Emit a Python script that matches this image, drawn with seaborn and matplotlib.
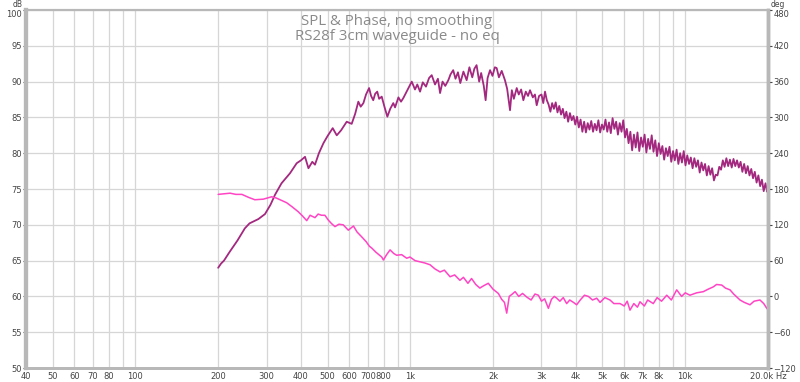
import numpy as np
import pandas as pd
import matplotlib
matplotlib.use("Agg")
import matplotlib.pyplot as plt
import matplotlib.transforms as mtrans
import seaborn as sns

# SPL trace (Hz, dB)
spl_freq = [200, 205, 210, 220, 235, 250, 260, 280, 296, 310, 322, 340, 365, 386, 400, 414, 426, 440, 450, 465,
            483, 500, 522, 540, 560, 587, 612, 630, 647, 660, 675, 690, 708, 720, 733, 745, 758, 770, 787, 805,
            825, 845, 867, 880, 905, 925, 943, 975, 1012, 1040, 1060, 1085, 1110, 1140, 1170, 1196, 1230, 1260,
            1283, 1310, 1340, 1375, 1400, 1432, 1460, 1490, 1520, 1560, 1603, 1640, 1680, 1710, 1742, 1780, 1810,
            1850, 1879, 1910, 1950, 1990, 2030, 2061, 2100, 2150, 2209, 2250, 2305, 2340, 2380, 2438, 2480, 2530,
            2577, 2630, 2680, 2725, 2790, 2840, 2882, 2940,
            3000, 3045, 3090, 3137, 3184, 3232, 3280, 3329, 3379, 3430, 3481, 3534, 3587, 3640, 3695, 3750,
            3807, 3864, 3922, 3981, 4040, 4101, 4162, 4225, 4288, 4352, 4418, 4484, 4551, 4620, 4689, 4759,
            4831, 4903, 4977, 5052, 5127, 5204, 5282, 5361, 5442, 5524, 5606, 5690, 5776, 5863, 5950, 6040,
            6130, 6222, 6316, 6410, 6507, 6604, 6703, 6804, 6906, 7010, 7115, 7221, 7330, 7440, 7551, 7665,
            7780, 7896, 8015, 8135, 8257, 8381, 8507, 8634, 8764, 8895, 9029, 9164, 9302, 9441, 9583, 9727,
            9873, 10021, 10171, 10324, 10479, 10636, 10795, 10957, 11121, 11288, 11458, 11630, 11804, 11981,
            12161, 12343, 12528, 12716, 12907, 13101, 13297, 13497, 13699, 13905, 14113, 14325, 14540, 14758,
            14979, 15204, 15432, 15663, 15898, 16137, 16379, 16625, 16874, 17127, 17384, 17645, 17909, 18178,
            18451, 18727, 19008, 19293, 19583, 19877, 20000]
spl_db = [64.0, 64.6, 65.0, 66.2, 67.8, 69.5, 70.2, 70.8, 71.5, 72.8, 74.2, 75.8, 77.2, 78.6, 79.0, 79.5, 77.9, 78.8,
          78.4, 80.0, 81.4, 82.4, 83.5, 82.5, 83.2, 84.4, 84.1, 85.5, 87.2, 86.5, 87.0, 88.2, 89.1, 88.0, 87.4, 88.3,
          88.6, 87.6, 87.9, 86.5, 85.1, 86.2, 87.0, 86.4, 87.8, 87.2, 87.7, 88.8, 90.0, 88.9, 89.6, 88.6, 89.9, 89.3,
          90.5, 90.9, 89.6, 90.4, 88.4, 90.0, 89.4, 90.2, 91.0, 91.6, 90.4, 91.3, 89.8, 91.4, 90.2, 92.0, 90.6, 91.8,
          92.3, 90.0, 91.2, 89.4, 87.4, 90.5, 91.6, 90.8, 92.0, 91.9, 90.6, 91.5, 90.2, 89.0, 86.0, 88.8, 87.6, 89.1,
          88.2, 88.9, 87.4, 88.6, 88.0, 88.8, 87.8, 88.2, 86.7, 88.0,
          88.2, 87.0, 88.6, 87.4, 86.8, 85.8, 87.0, 86.2, 87.1, 85.7, 86.6, 85.4, 86.2, 84.9, 85.8, 84.4,
          85.6, 84.6, 85.2, 84.0, 85.1, 83.6, 84.7, 83.0, 84.4, 82.9, 84.2, 83.3, 84.5, 83.0, 84.1, 83.2,
          84.6, 82.9, 84.0, 83.3, 84.7, 83.0, 84.3, 82.8, 84.9, 83.4, 84.4, 82.6, 84.2, 83.0, 84.6, 82.2,
          83.4, 81.4, 83.0, 80.4, 82.6, 80.8, 82.9, 80.3, 82.2, 80.9, 82.6, 80.1, 82.0, 80.6, 82.5, 80.2,
          81.8, 79.6, 81.4, 79.9, 81.0, 79.1, 80.7, 79.6, 80.9, 78.8, 80.3, 79.0, 80.5, 78.5, 80.0, 78.7,
          80.3, 78.3, 79.7, 78.5, 79.4, 77.9, 79.3, 78.1, 79.0, 77.3, 78.7, 77.6, 78.5, 76.9,
          78.2, 77.0, 77.9, 76.2, 77.0, 76.9, 78.1, 77.7, 79.0, 78.1, 79.3, 78.2, 79.1, 78.0,
          79.2, 78.2, 79.0, 78.0, 78.8, 77.4, 78.5, 77.2, 78.2, 76.9, 77.8, 76.5, 77.4, 75.9,
          76.9, 75.4, 76.3, 74.7, 75.8, 74.6, 75.2]

# Phase trace (Hz, degrees)
ph_freq = [200, 210, 221, 232, 244, 258, 272, 292, 313, 325, 336, 355, 372, 391, 405, 420, 432, 450, 462, 475, 489,
           503, 517, 532, 550, 570, 595, 621, 640, 665, 690, 710, 724, 750, 787, 798, 820, 844, 870, 892, 930, 970,
           997, 1040, 1085, 1130, 1180, 1230, 1283, 1330, 1395, 1450, 1515, 1560, 1620, 1670, 1730, 1790, 1850,
           1921, 2000, 2090, 2150, 2200, 2242, 2290, 2350, 2405, 2480, 2560, 2650, 2750, 2840, 2923, 3000, 3080,
           3178, 3260, 3340, 3409, 3500, 3600, 3704, 3800, 3920, 4028, 4150, 4300, 4443, 4600, 4764, 4900, 5100,
           5325, 5500, 5790, 6000, 6150, 6295, 6500, 6700, 6845, 7100, 7300, 7650, 7900, 8200, 8565, 8900, 9310,
           9700, 10000, 10400, 11000, 11640, 12100, 12650, 13000, 13580, 14000, 14550, 15000, 15820, 16400, 17200,
           17800, 18700, 19300, 19800, 20000]
ph_deg = [171, 172, 173, 171, 171, 166, 162, 163, 167, 165, 162, 157, 150, 142, 135, 127, 136, 132, 138, 136, 136,
          128, 122, 117, 121, 120, 111, 118, 108, 100, 92, 84, 81, 74, 66, 61, 70, 78, 72, 69, 70, 64, 66, 60, 58,
          56, 53, 46, 41, 44, 33, 36, 27, 32, 22, 30, 20, 14, 18, 22, 12, 5, -5, -10, -28, 0, 4, 8, 0, 5, -1, -6,
          4, 2, -8, -4, -20, -5, 0, -3, -8, -2, -12, -6, -10, -14, -6, 2, 0, -6, -3, -10, -2, -6, -12, -12, -16, -8,
          -23, -12, -18, -9, -16, -6, -12, -2, -8, 2, -6, 11, 0, 6, 2, 6, 8, 12, 16, 20, 19, 14, 11, 4, -6, -10,
          -14, -8, -6, -12, -20, -22]

x_ticks = [40, 50, 60, 70, 80, 100, 200, 300, 400, 500, 600, 700, 800, 1000, 2000, 3000, 4000, 5000, 6000,
           7000, 8000, 10000, 20000]
x_labels = ["40", "50", "60", "70", "80", "100", "200", "300", "400", "500", "600", "700", "800", "1k", "2k",
            "3k", "4k", "5k", "6k", "7k", "8k", "10k", "20.0k Hz"]
db_ticks = [50, 55, 60, 65, 70, 75, 80, 85, 90, 95, 100]
deg_ticks = [-120, -60, 0, 60, 120, 180, 240, 300, 360, 420, 480]

spl = pd.DataFrame({"freq": spl_freq, "db": spl_db})
phase = pd.DataFrame({"freq": ph_freq, "deg": ph_deg})

sns.set_style("white")
plt.rcParams["font.family"] = ["DejaVu Sans"]

fig = plt.figure(figsize=(8, 3.82), dpi=100)
ax = fig.add_axes([0.0325, 0.0366, 0.9275, 0.9372])
ax2 = ax.twinx()

grid_c = "#d6d6d6"
minor = [f * 10 ** e for e in range(1, 5) for f in range(1, 10)]
minor = [m for m in minor if 40 <= m <= 20000]
for m in minor:
    ax.axvline(m, color=grid_c, lw=0.9, zorder=0)
for d in db_ticks:
    ax.axhline(d, color=grid_c, lw=0.9, zorder=0)

sns.lineplot(data=spl, x="freq", y="db", ax=ax, color="#a3287f", lw=1.3, estimator=None, sort=False)
sns.lineplot(data=phase, x="freq", y="deg", ax=ax2, color="#ff44c4", lw=1.1, estimator=None, sort=False)

ax.set_xscale("log")
ax.set_xlim(40, 20000)
ax.set_ylim(50, 100)
ax2.set_ylim(-120, 480)
ax.set_xticks(x_ticks)
ax.set_xticklabels(x_labels)
ax.xaxis.set_minor_locator(matplotlib.ticker.NullLocator())
ax.set_yticks(db_ticks)
ax2.set_yticks(deg_ticks)
ax.set_xlabel("")
ax.set_ylabel("")
ax2.set_ylabel("")

lab_c = "#444444"
ax.tick_params(axis="both", labelsize=6, colors=lab_c, length=2, pad=1)
ax2.tick_params(axis="y", labelsize=6, colors=lab_c, length=3, pad=1)

# nudge the top labels down a little so the unit labels fit above them
down = mtrans.ScaledTranslation(0, -2.5 / 72, fig.dpi_scale_trans)
for lbl in (ax.get_yticklabels()[-1], ax2.get_yticklabels()[-1]):
    lbl.set_transform(lbl.get_transform() + down)

for a in (ax, ax2):
    for s in a.spines.values():
        s.set_color("#b8b8b8")
    a.spines["left"].set_linewidth(3)
    a.spines["right"].set_linewidth(2.5)
    a.spines["bottom"].set_linewidth(2)
    a.spines["top"].set_linewidth(1.5)

fig.text(0.0225, 1.0, "dB", fontsize=5.5, color=lab_c, ha="center", va="top")
fig.text(0.972, 1.0, "deg", fontsize=5.5, color=lab_c, ha="center", va="top")

ax.text(0.5, 0.99, "SPL & Phase, no smoothing\nRS28f 3cm waveguide - no eq", transform=ax.transAxes,
        ha="center", va="top", fontsize=10.8, color="#8a8a8a", family=["Open Sans", "DejaVu Sans"],
        linespacing=1.0, zorder=5)

fig.savefig("out.png", dpi=100)
